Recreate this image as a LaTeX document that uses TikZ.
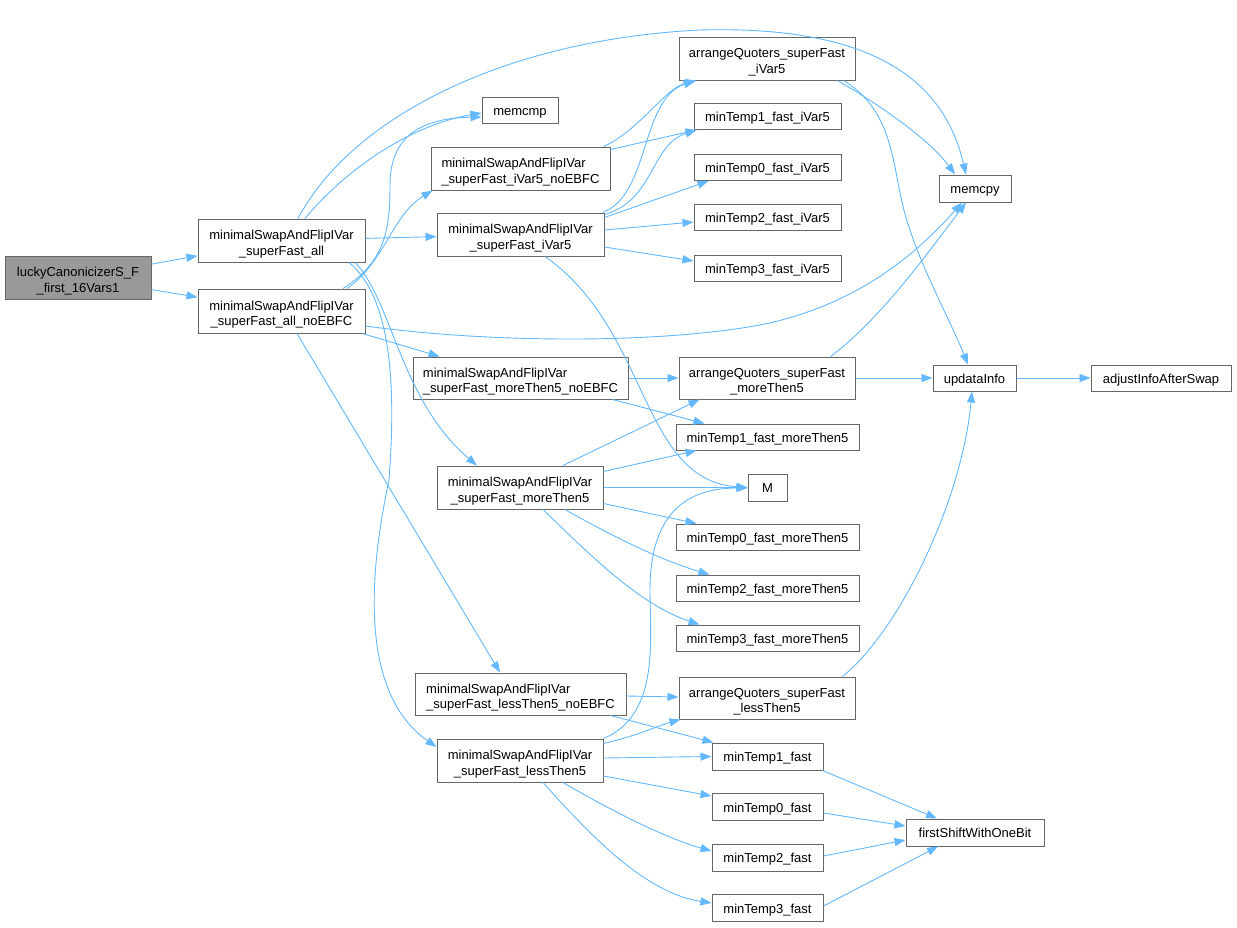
\documentclass[tikz,border=0pt]{standalone}
\usepackage{fontspec}
\setmainfont{Liberation Sans}
\usetikzlibrary{arrows.meta}
\definecolor{edgeblue}{HTML}{63B8FF}
\definecolor{boxgray}{HTML}{666666}
\definecolor{luckfill}{HTML}{999999}
\begin{document}
\begin{tikzpicture}[x=1pt,y=-1pt,
  box/.style={draw=boxgray, fill=white, line width=1pt, inner sep=0pt,
    font=\fontsize{13}{15.5}\selectfont, align=center, text height=13.5pt, text depth=2.7pt},
  two/.style={text height=32pt, text depth=3pt},
  lbox/.style={box, two, align=left},
  edge/.style={draw=edgeblue, line width=0.9pt, -{Triangle[length=11pt,width=8pt]}}]
\useasboundingbox (0,0) rectangle (1237,927);
% nodes
\node[box, two, fill=luckfill, minimum width=146pt, minimum height=43pt] (lucky) at (78,277.5) {luckyCanonicizerS\_F\\\_first\_16Vars1};
\node[box, two, minimum width=167pt, minimum height=43pt] (all) at (281.5,240.5) {minimalSwapAndFlipIVar\\\_superFast\_all};
\node[box, two, minimum width=167pt, minimum height=44pt] (allno) at (281.5,311) {minimalSwapAndFlipIVar\\\_superFast\_all\_noEBFC};
\node[box, minimum width=76pt, minimum height=26pt] (memcmp) at (520,110) {memcmp};
\node[lbox, minimum width=179pt, minimum height=43pt] (iV5no) at (520.5,168.5) {minimalSwapAndFlipIVar\\\_superFast\_iVar5\_noEBFC};
\node[box, two, minimum width=167pt, minimum height=43pt] (iV5) at (520.5,234.5) {minimalSwapAndFlipIVar\\\_superFast\_iVar5};
\node[box, two, minimum width=176pt, minimum height=43pt] (aqI) at (767,58.5) {arrangeQuoters\_superFast\\\_iVar5};
\node[box, minimum width=147pt, minimum height=26pt] (t1I) at (767.5,116.5) {minTemp1\_fast\_iVar5};
\node[box, minimum width=147pt, minimum height=26pt] (t0I) at (767.5,167.5) {minTemp0\_fast\_iVar5};
\node[box, minimum width=147pt, minimum height=26pt] (t2I) at (767.5,217.5) {minTemp2\_fast\_iVar5};
\node[box, minimum width=147pt, minimum height=26pt] (t3I) at (767.5,268) {minTemp3\_fast\_iVar5};
\node[box, minimum width=72pt, minimum height=27pt] (memcpy) at (975,188.5) {memcpy};
\node[lbox, minimum width=215pt, minimum height=42pt] (m5no) at (520.5,378) {minimalSwapAndFlipIVar\\\_superFast\_moreThen5\_noEBFC};
\node[box, two, minimum width=176pt, minimum height=42pt] (aqM) at (767,378) {arrangeQuoters\_superFast\\\_moreThen5};
\node[box, minimum width=183pt, minimum height=26pt] (t1M) at (767.5,437) {minTemp1\_fast\_moreThen5};
\node[box, minimum width=39pt, minimum height=27pt] (M) at (767.5,487.5) {M};
\node[box, two, minimum width=166pt, minimum height=43pt] (m5) at (520,487.5) {minimalSwapAndFlipIVar\\\_superFast\_moreThen5};
\node[box, minimum width=183pt, minimum height=26pt] (t0M) at (767.5,537) {minTemp0\_fast\_moreThen5};
\node[box, minimum width=183pt, minimum height=26pt] (t2M) at (767.5,588) {minTemp2\_fast\_moreThen5};
\node[box, minimum width=183pt, minimum height=26pt] (t3M) at (767.5,638) {minTemp3\_fast\_moreThen5};
\node[box, minimum width=83pt, minimum height=26pt] (upd) at (974.5,378) {updataInfo};
\node[box, minimum width=140pt, minimum height=26pt] (adj) at (1161,378) {adjustInfoAfterSwap};
\node[lbox, minimum width=211pt, minimum height=42pt] (l5no) at (520.5,694) {minimalSwapAndFlipIVar\\\_superFast\_lessThen5\_noEBFC};
\node[box, two, minimum width=176pt, minimum height=42pt] (aqL) at (767,698) {arrangeQuoters\_superFast\\\_lessThen5};
\node[box, two, minimum width=166pt, minimum height=43pt] (l5) at (520,760.5) {minimalSwapAndFlipIVar\\\_superFast\_lessThen5};
\node[box, minimum width=111pt, minimum height=27pt] (t1F) at (767.5,756.5) {minTemp1\_fast};
\node[box, minimum width=111pt, minimum height=27pt] (t0F) at (767.5,807) {minTemp0\_fast};
\node[box, minimum width=111pt, minimum height=27pt] (t2F) at (767.5,857.5) {minTemp2\_fast};
\node[box, minimum width=111pt, minimum height=27pt] (t3F) at (767.5,908) {minTemp3\_fast};
\node[box, minimum width=138pt, minimum height=27pt] (fs) at (975,832.5) {firstShiftWithOneBit};
% edges
\draw[edge] (lucky) -- (all);
\draw[edge] (lucky) -- (allno);
\draw[edge] ([shift={(16.5,0)}]all.north) .. controls (350,120) and (500,40) .. (700,30) .. controls (880,25) and (945,85) .. ([shift={(-9,0)}]memcpy.north);
\draw[edge] ([shift={(23.5,0)}]all.north) .. controls (345,170) and (410,125) .. ([shift={(0,3)}]memcmp.west);
\draw[edge] ([shift={(61.5,0)}]allno.north) .. controls (385,262) and (390,230) .. (390,185) .. controls (390,130) and (430,118) .. ([shift={(0,7)}]memcmp.west);
\draw[edge] ([shift={(65.5,0)}]allno.north) .. controls (385,262) and (392,215) .. ([shift={(2,0)}]iV5no.south west);
\draw[edge] (all) -- (iV5);
\draw[edge] ([shift={(73.5,0)}]all.south) .. controls (392,300) and (400,400) .. ([shift={(-43,0)}]m5.north);
\draw[edge] ([shift={(67.5,0)}]all.south) .. controls (395,300) and (395,400) .. (389,480) .. controls (372,560) and (355,690) .. ([shift={(0,-13.5)}]l5.west);
\draw[edge] ([shift={(0,15)}]allno.east) .. controls (480,342) and (650,345) .. (760,325) .. controls (860,305) and (920,250) .. ([shift={(-13,0)}]memcpy.south);
\draw[edge] ([shift={(-3,0)}]allno.south east) -- ([shift={(27,0)}]m5no.north west);
\draw[edge] ([shift={(15.5,0)}]allno.south) -- ([shift={(-20.5,0)}]l5no.north);
\draw[edge] ([shift={(-7,0)}]iV5no.north east) .. controls (640,130) and (665,88) .. ([shift={(18,0)}]aqI.south west);
\draw[edge] ([shift={(0,3)}]iV5no.north east) -- ([shift={(3,0)}]t1I.south west);
\draw[edge] ([shift={(-2,0)}]iV5.north east) .. controls (650,195) and (640,100) .. ([shift={(16,0)}]aqI.south west);
\draw[edge] ([shift={(0,2)}]iV5.north east) .. controls (655,200) and (650,145) .. ([shift={(3,0)}]t1I.south west);
\draw[edge] ([shift={(0,5)}]iV5.north east) -- ([shift={(15,0)}]t0I.south west);
\draw[edge] ([shift={(0,-4.5)}]iV5.east) -- ([shift={(0,4.5)}]t2I.west);
\draw[edge] ([shift={(0,12.5)}]iV5.east) -- ([shift={(0,-7)}]t3I.west);
\draw[edge] ([shift={(24.5,0)}]iV5.south) .. controls (650,330) and (640,480) .. (M.west);
\draw[edge] ([shift={(-18,0)}]aqI.south east) .. controls (880,105) and (930,140) .. ([shift={(-20,0)}]memcpy.north);
\draw[edge] ([shift={(-12,0)}]aqI.south east) .. controls (900,115) and (890,175) .. (910,230) .. controls (925,275) and (950,320) .. ([shift={(-6.5,0)}]upd.north);
\draw[edge] (m5no) -- (aqM);
\draw[edge] ([shift={(-16,0)}]m5no.south east) -- ([shift={(29,0)}]t1M.north west);
\draw[edge] ([shift={(43,0)}]m5.north) -- ([shift={(21,0)}]aqM.south west);
\draw[edge] ([shift={(0,6)}]m5.north east) -- ([shift={(21,0)}]t1M.south west);
\draw[edge] (m5) -- (M);
\draw[edge] ([shift={(0,-6)}]m5.south east) -- ([shift={(21,0)}]t0M.north west);
\draw[edge] ([shift={(45,0)}]m5.south) .. controls (610,535) and (660,560) .. ([shift={(34,0)}]t2M.north west);
\draw[edge] ([shift={(23,0)}]m5.south) .. controls (590,555) and (640,605) .. ([shift={(24,0)}]t3M.north west);
\draw[edge] ([shift={(-25,0)}]aqM.north east) .. controls (880,320) and (930,250) .. ([shift={(-9,0)}]memcpy.south);
\draw[edge] (aqM) -- (upd);
\draw[edge] (upd) -- (adj);
\draw[edge] ([shift={(0,2)}]l5no.east) -- ([shift={(0,-1)}]aqL.west);
\draw[edge] ([shift={(-16,0)}]l5no.south east) -- ([shift={(2,0)}]t1F.north west);
\draw[edge] ([shift={(0,5)}]l5.north east) .. controls (640,735) and (660,725) .. ([shift={(2,0)}]aqL.south west);
\draw[edge] (l5.north east) .. controls (660,715) and (650,640) .. (650,590) .. controls (650,510) and (690,488) .. ([shift={(0,0.5)}]M.west);
\draw[edge] ([shift={(0,-2.5)}]l5.east) -- (t1F.west);
\draw[edge] ([shift={(0,15.5)}]l5.east) -- ([shift={(0,-11)}]t0F.west);
\draw[edge] ([shift={(43,0)}]l5.south) .. controls (610,810) and (665,838) .. ([shift={(0,-6.5)}]t2F.west);
\draw[edge] ([shift={(23,0)}]l5.south) .. controls (590,835) and (645,893) .. ([shift={(0,-5)}]t3F.west);
\draw[edge] ([shift={(-13,0)}]aqL.north east) .. controls (900,630) and (962,500) .. ([shift={(-2.5,0)}]upd.south);
\draw[edge] ([shift={(-1,0)}]t1F.south east) -- ([shift={(-38,0)}]fs.north);
\draw[edge] ([shift={(0,6)}]t0F.east) -- ([shift={(0,-6.5)}]fs.west);
\draw[edge] ([shift={(0,-1.5)}]t2F.east) -- ([shift={(0,7.5)}]fs.west);
\draw[edge] ([shift={(0,-2)}]t3F.east) -- ([shift={(-37,0)}]fs.south);
\end{tikzpicture}
\end{document}
